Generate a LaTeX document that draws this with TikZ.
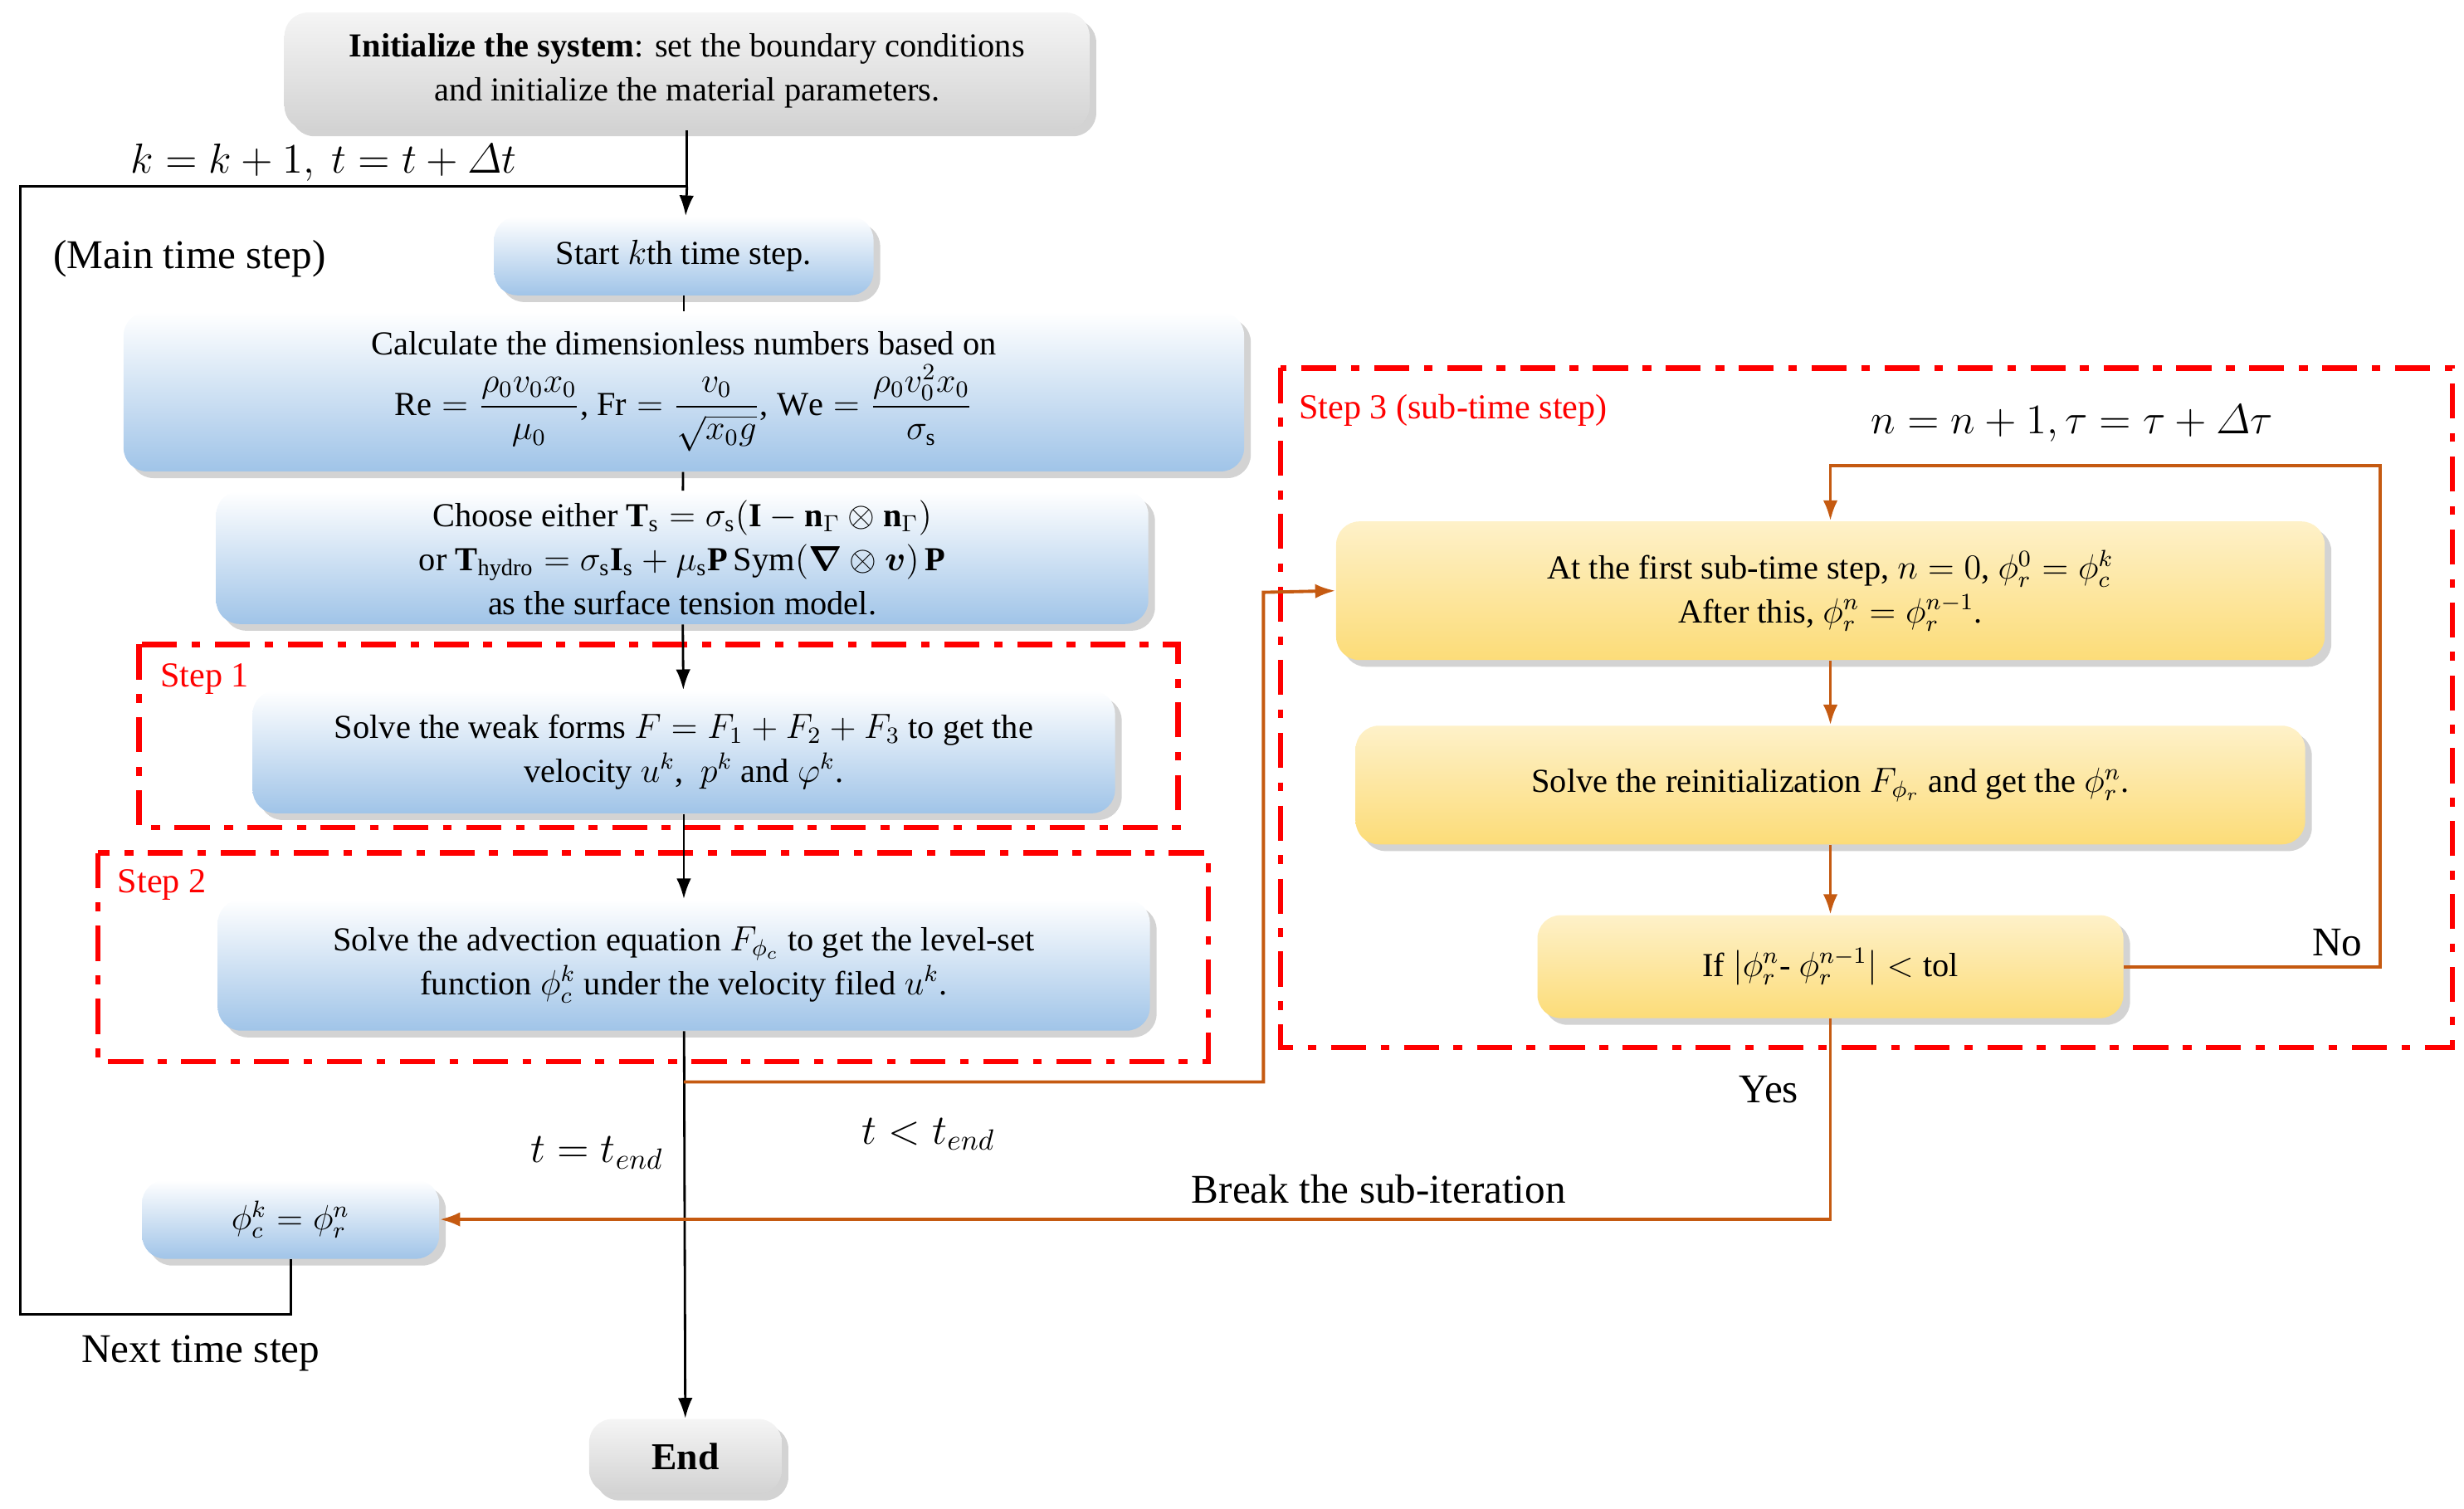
\documentclass[tikz,border=0pt]{standalone}
\usepackage{amsmath,bm}
\usepackage{fontspec}
\setmainfont{Liberation Serif}
\usetikzlibrary{shadows,arrows.meta}
\definecolor{subline}{RGB}{197,90,17}
\definecolor{boxblue}{RGB}{160,196,232}
\definecolor{boxyellow}{RGB}{252,220,120}

\tikzset{
  bluebox/.style = {rounded corners=8pt, top color=white, bottom color=boxblue, drop shadow={opacity=0.35}, align=center, font=\fontsize{11.5}{15}\selectfont, inner sep=0pt},
  yellowbox/.style = {rounded corners=8pt, top color=white!60!boxyellow, bottom color=boxyellow, drop shadow={opacity=0.35}, align=center, font=\fontsize{11.5}{15}\selectfont, inner sep=0pt},
  greybox/.style = {rounded corners=8pt, top color=gray!8, bottom color=gray!35, drop shadow={opacity=0.35}, align=center, font=\fontsize{11.5}{15}\selectfont, inner sep=0pt},
  main_arrow/.style = {thick, -{Latex[length=7pt,width=5pt]}},
  main_line/.style = {thick},
  sub_arrow/.style = {line width=1.1pt, subline, -{Latex[length=7pt,width=5pt]}},
  step_frame/.style = {red, line width=1.8pt, dash pattern=on 12pt off 5pt on 3pt off 5pt},
  step_label/.style = {red, font=\fontsize{12}{14}\selectfont, anchor=west},
  big_label/.style = {font=\fontsize{14}{16}\selectfont}
}

\begin{document}
\begin{tikzpicture}[x=0.01903cm, y=-0.01903cm]
    \useasboundingbox (0,0) rectangle (1560.2,955.3);
    % Step frames
    \draw [step_frame] (88,408) rectangle (746,524);
    \draw [step_frame] (62,540) rectangle (765,672);
    \draw [step_frame] (811,233) rectangle (1553,663);
    \node [step_label] (step1) at (95,430) {Step 1};
    \node [step_label] (step2) at (68,560) {Step 2};
    \node [step_label] (step3) at (816,260) {Step 3 (sub-time step)};
    % Main time step boxes
    \node (init) [greybox, minimum width=9.7cm, minimum height=1.41cm] at (435,45)
        {\textbf{Initialize the system}: set the boundary conditions\\ and initialize the material parameters.};
    \node (start) [bluebox, minimum width=4.57cm, minimum height=0.95cm] at (433,162) {Start $k$th time step.};
    \node (calc) [bluebox, minimum width=13.5cm, minimum height=1.92cm] at (433,248)
        {Calculate the dimensionless numbers based on\\[2pt]
        $\mathrm{Re}=\dfrac{\rho_0v_0x_0}{\mu_0}$, $\mathrm{Fr}=\dfrac{v_0}{\sqrt{x_0g}}$, $\mathrm{We}=\dfrac{\rho_0v_0^2x_0}{\sigma_\mathrm{s}}$};
    \node (choose) [bluebox, minimum width=11.23cm, minimum height=1.6cm] at (432,353)
        {Choose either $\mathbf{T}_\mathrm{s}=\sigma_\mathrm{s}(\mathbf{I}-\mathbf{n}_\Gamma\otimes\mathbf{n}_\Gamma)$\\
        or $\mathbf{T}_\mathrm{hydro}=\sigma_\mathrm{s}\mathbf{I}_\mathrm{s}+\mu_\mathrm{s}\mathbf{P}\,\mathrm{Sym}(\bm{\nabla}\otimes\bm{v})\,\mathbf{P}$\\
        as the surface tension model.};
    \node (weak) [bluebox, minimum width=10.39cm, minimum height=1.48cm] at (433,476)
        {Solve the weak forms $F=F_1+F_2+F_3$ to get the\\ velocity $u^k$,~ $p^k$ and $\varphi^k$.};
    \node (advect) [bluebox, minimum width=11.23cm, minimum height=1.58cm] at (433,611)
        {Solve the advection equation $F_{\phi_c}$ to get the level-set\\ function $\phi_c^k$ under the velocity filed $u^k$.};
    \node (update) [bluebox, minimum width=3.58cm, minimum height=0.95cm] at (184,772) {$\phi_c^k=\phi_r^n$};
    \node (end) [greybox, minimum width=2.32cm, minimum height=0.9cm, font=\fontsize{13}{15}\selectfont\bfseries] at (434,922) {End};
    % Sub-time step boxes
    \node (first) [yellowbox, minimum width=11.91cm, minimum height=1.67cm] at (1159,374)
        {At the first sub-time step, $n=0$, $\phi_r^0=\phi_c^k$\\ After this, $\phi_r^n=\phi_r^{n-1}$.};
    \node (reinit) [yellowbox, minimum width=11.44cm, minimum height=1.43cm] at (1159,497)
        {Solve the reinitialization $F_{\phi_r}$ and get the $\phi_r^n$.};
    \node (check) [yellowbox, minimum width=7.06cm, minimum height=1.24cm] at (1159,612)
        {If $|\phi_r^n$- $\phi_r^{n-1}|<\mathrm{tol}$};
    % Labels
    \node (klabel) [big_label] at (205,103) {$k=k+1,\ t=t+\varDelta t$};
    \node (mainlabel) [big_label] at (120,164) {(Main time step)};
    \node (tend) [big_label] at (378,730) {$t=t_{end}$};
    \node (tless) [big_label] at (588,718) {$t<t_{end}$};
    \node (nlabel) [big_label] at (1312,268) {$n=n+1,\tau=\tau+\varDelta\tau$};
    \node (nolabel) [big_label] at (1480,597) {No};
    \node (yeslabel) [big_label] at (1120,690) {Yes};
    \node (breaklabel) [big_label] at (873,753) {Break the sub-iteration};
    \node (nextlabel) [big_label] at (127,857) {Next time step};
    % Coordinates for connectors
    \coordinate (join) at (init.south |- 0,118);
    \coordinate (branch) at (advect.south |- 0,685);
    \coordinate (loopcorner) at (13,832);
    %% Main arrows
    \draw [main_line] (init) -- (join);
    \draw [main_arrow] (join) -- (start);
    \draw [main_line] (start) -- (calc);
    \draw [main_line] (calc) -- (choose);
    \draw [main_arrow] (choose) -- (weak);
    \draw [main_arrow] (weak) -- (advect);
    \draw [main_arrow] (advect) -- (end);
    % Loop to next time step
    \draw [main_line] (update.south) |- (loopcorner) |- (join);
    %% Sub-time step arrows
    \draw [sub_arrow] (branch) -| (800,375) -- (first.west);
    \draw [sub_arrow] (first) -- (reinit);
    \draw [sub_arrow] (reinit) -- (check);
    \draw [sub_arrow] (check.east) -| (1507,295) -| (first.north);
    \draw [sub_arrow] (check.south) |- (update.east);
\end{tikzpicture}
\end{document}
